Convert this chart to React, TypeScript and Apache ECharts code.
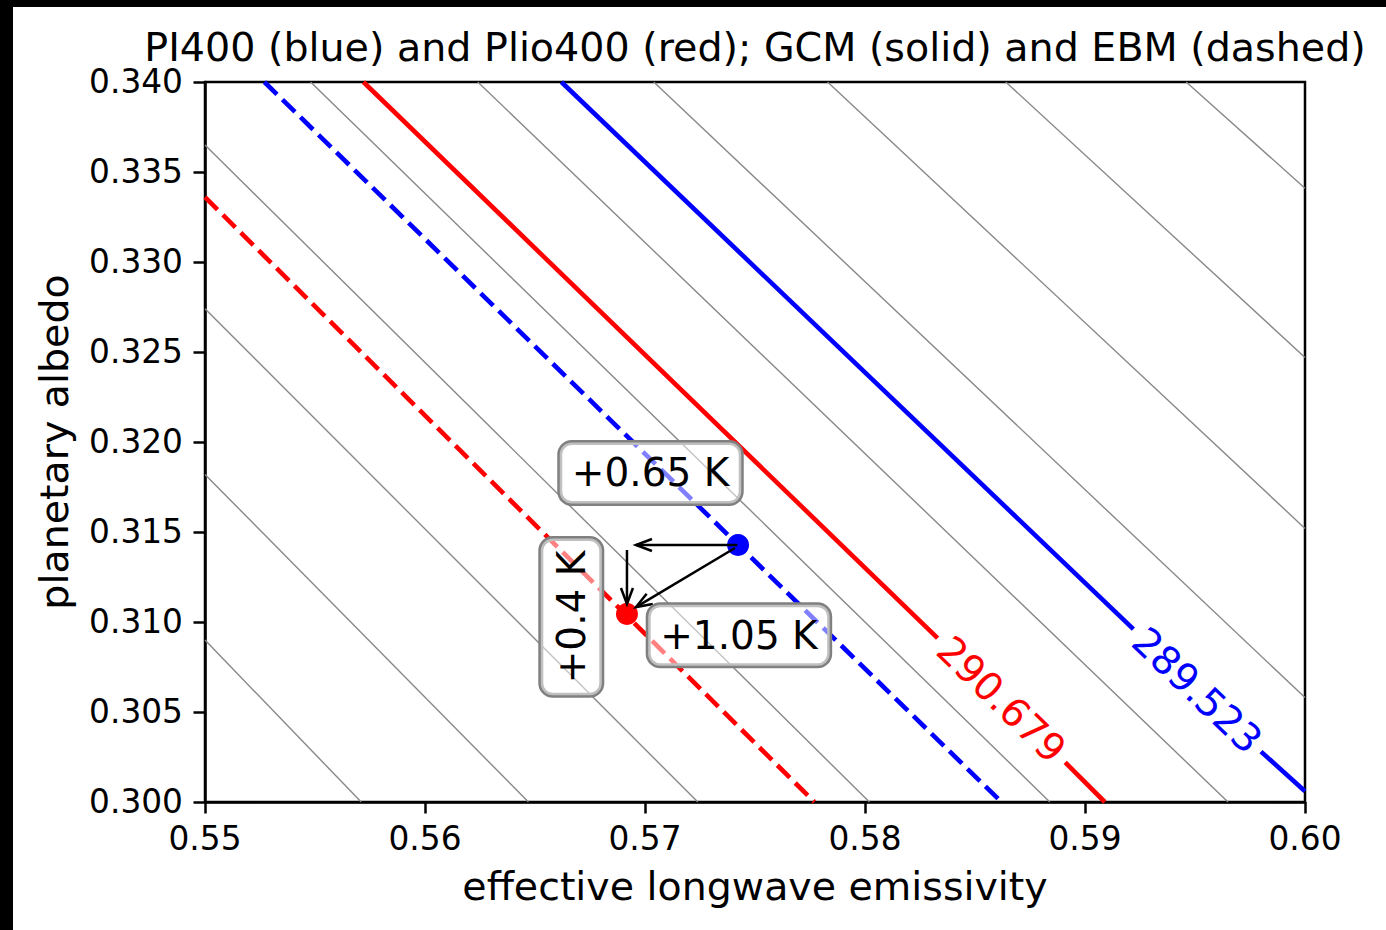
import React, { useEffect, useRef } from "react";
import * as echarts from "echarts";

const FONT = "DejaVu Sans";

// Axis ranges
const xMin = 0.55;
const xMax = 0.6;
const xStep = 0.01;
const yMin = 0.3;
const yMax = 0.34;
const yStep = 0.005;

const titleText = "PI400 (blue) and Plio400 (red); GCM (solid) and EBM (dashed)";
const xName = "effective longwave emissivity";
const yName = "planetary albedo";

// Thin grey background contours: [start, end] in (emissivity, albedo)
const grayContours = [
  [[0.55, 0.309], [0.5571, 0.3]],
  [[0.55, 0.3182], [0.5647, 0.3]],
  [[0.55, 0.3274], [0.5724, 0.3]],
  [[0.55, 0.3365], [0.5802, 0.3]],
  [[0.5548, 0.34], [0.5884, 0.3]],
  [[0.5624, 0.34], [0.5965, 0.3]],
  [[0.5704, 0.34], [0.6, 0.3058]],
  [[0.5783, 0.34], [0.6, 0.3152]],
  [[0.5864, 0.34], [0.6, 0.3247]],
  [[0.5946, 0.34], [0.6, 0.3341]],
];

// GCM contours (solid) with a gap for the inline label
const gcmRed = [
  [[0.5572, 0.34], [0.5833, 0.3091]],
  [[0.5891, 0.3022], [0.5909, 0.3]],
];
const gcmBlue = [
  [[0.5662, 0.34], [0.5922, 0.3096]],
  [[0.598, 0.3028], [0.6, 0.3006]],
];
// EBM contours (dashed)
const ebmBlue = [[[0.5527, 0.34], [0.5862, 0.3]]];
const ebmRed = [[[0.55, 0.3336], [0.5777, 0.3]]];

// Inline contour labels
const contourLabels = ["290.679", "289.523"];
const contourLabelPos = [
  [0.5862, 0.3057, 0],
  [0.5951, 0.3062, 1],
];
const contourLabelColors = ["#ff0000", "#0000ff"];
const contourLabelLines = [
  [[0.5572, 0.34], [0.5909, 0.3]],
  [[0.5662, 0.34], [0.6, 0.3006]],
];

// Points
const piPoint = [[0.57423, 0.31428]];
const plioPoint = [[0.56918, 0.31044]];

// Arrows: [x1, y1, x2, y2]
const arrows = [
  [0.5742, 0.31428, 0.56959, 0.31428],
  [0.56918, 0.314, 0.56918, 0.311],
  [0.57409, 0.31411, 0.56959, 0.31083],
];

// Boxed annotations
const annTexts = ["+0.65 K", "+1.05 K", "+0.4 K"];
const annPos = [
  [0.57025, 0.31828, 0],
  [0.57427, 0.30926, 1],
  [0.56665, 0.31028, 2],
];
const annRot = [0, 0, 90];

function linesData(segs: number[][][]) {
  return segs.map((s) => ({ coords: s }));
}

export default function App() {
  const ref = useRef<HTMLDivElement>(null);

  useEffect(() => {
    if (!ref.current) return;
    const chart = echarts.init(ref.current, null, { renderer: "svg" });

    const axisCommon = {
      nameMoveOverlap: false,
      axisLine: { show: true, lineStyle: { color: "#000", width: 2.5 } },
      axisTick: { show: true, inside: false, length: 11.5, lineStyle: { color: "#000", width: 2.5 } },
      splitLine: { show: false },
      nameTextStyle: { fontFamily: FONT, fontSize: 39.5, color: "#000" },
    };

    const option: any = {
      animation: false,
      backgroundColor: "#fff",
      grid: {
        left: 192,
        top: 75,
        width: 1100,
        height: 720,
        show: true,
        borderColor: "#000",
        borderWidth: 2.5,
        backgroundColor: "transparent",
        containLabel: false,
        outerBoundsMode: "none",
      },
      graphic: [
        {
          type: "text",
          x: 742,
          y: 39.5,
          style: {
            text: titleText,
            fontFamily: FONT,
            fontSize: 39.6,
            fill: "#000",
            align: "center",
            textAlign: "center",
            verticalAlign: "middle",
            textVerticalAlign: "middle",
          },
        },
      ],
      xAxis: {
        ...axisCommon,
        type: "value",
        min: xMin,
        max: xMax,
        interval: xStep,
        name: xName,
        nameLocation: "middle",
        nameGap: 64,
        axisLabel: {
          fontFamily: FONT,
          fontSize: 32.8,
          color: "#000",
          margin: 20,
          formatter: (v: number) => v.toFixed(2),
        },
      },
      yAxis: {
        ...axisCommon,
        type: "value",
        min: yMin,
        max: yMax,
        interval: yStep,
        name: yName,
        nameLocation: "middle",
        nameRotate: 90,
        nameGap: 131,
        axisLabel: {
          fontFamily: FONT,
          fontSize: 32.8,
          color: "#000",
          margin: 22,
          formatter: (v: number) => v.toFixed(3),
        },
      },
      series: [
        {
          type: "lines",
          coordinateSystem: "cartesian2d",
          polyline: false,
          z: 1,
          silent: true,
          lineStyle: { color: "#888888", width: 1.4, opacity: 1 },
          data: linesData(grayContours),
        },
        {
          type: "lines",
          coordinateSystem: "cartesian2d",
          z: 2,
          silent: true,
          lineStyle: { color: "#ff0000", width: 4.6, opacity: 1 },
          data: linesData(gcmRed),
        },
        {
          type: "lines",
          coordinateSystem: "cartesian2d",
          z: 2,
          silent: true,
          lineStyle: { color: "#0000ff", width: 4.6, opacity: 1 },
          data: linesData(gcmBlue),
        },
        {
          type: "lines",
          coordinateSystem: "cartesian2d",
          z: 2,
          silent: true,
          lineStyle: { color: "#0000ff", width: 4.6, opacity: 1, type: [17.6, 7.6] },
          data: linesData(ebmBlue),
        },
        {
          type: "lines",
          coordinateSystem: "cartesian2d",
          z: 2,
          silent: true,
          lineStyle: { color: "#ff0000", width: 4.6, opacity: 1, type: [17.6, 7.6] },
          data: linesData(ebmRed),
        },
        {
          type: "custom",
          coordinateSystem: "cartesian2d",
          z: 3,
          silent: true,
          encode: { x: 0, y: 1 },
          data: contourLabelPos,
          renderItem: (params: any, api: any) => {
            const i = api.value(2);
            const p = api.coord([api.value(0), api.value(1)]);
            const ln = contourLabelLines[i];
            const a = api.coord(ln[0]);
            const b = api.coord(ln[1]);
            const ang = Math.atan2(b[1] - a[1], b[0] - a[0]);
            return {
              type: "text",
              x: p[0],
              y: p[1],
              rotation: -ang,
              style: {
                text: contourLabels[i],
                fontFamily: FONT,
                fontSize: 39,
                fill: contourLabelColors[i],
                align: "center",
                textAlign: "center",
                verticalAlign: "middle",
                textVerticalAlign: "middle",
              },
            };
          },
        },
        {
          type: "scatter",
          z: 4,
          silent: true,
          symbol: "circle",
          symbolSize: 22,
          itemStyle: { color: "#0000ff", opacity: 1 },
          data: piPoint,
        },
        {
          type: "scatter",
          z: 4,
          silent: true,
          symbol: "circle",
          symbolSize: 22,
          itemStyle: { color: "#ff0000", opacity: 1 },
          data: plioPoint,
        },
        {
          type: "custom",
          coordinateSystem: "cartesian2d",
          z: 5,
          silent: true,
          encode: { x: [0, 2], y: [1, 3] },
          data: arrows,
          renderItem: (params: any, api: any) => {
            const a = api.coord([api.value(0), api.value(1)]);
            const b = api.coord([api.value(2), api.value(3)]);
            const ang = Math.atan2(b[1] - a[1], b[0] - a[0]);
            const L = 16;
            const W = 6;
            const c = Math.cos(ang);
            const s = Math.sin(ang);
            const h1 = [b[0] - L * c + W * s, b[1] - L * s - W * c];
            const h2 = [b[0] - L * c - W * s, b[1] - L * s + W * c];
            return {
              type: "group",
              children: [
                {
                  type: "line",
                  shape: { x1: a[0], y1: a[1], x2: b[0], y2: b[1] },
                  style: { stroke: "#000", lineWidth: 2.5 },
                },
                {
                  type: "polyline",
                  shape: { points: [h1, b, h2] },
                  style: { stroke: "#000", lineWidth: 2.5, fill: null },
                },
              ],
            };
          },
        },
        {
          type: "custom",
          coordinateSystem: "cartesian2d",
          z: 6,
          silent: true,
          encode: { x: 0, y: 1 },
          data: annPos,
          renderItem: (params: any, api: any) => {
            const i = api.value(2);
            const p = api.coord([api.value(0), api.value(1)]);
            return {
              type: "text",
              x: p[0],
              y: p[1],
              rotation: (annRot[i] * Math.PI) / 180,
              style: {
                text: annTexts[i],
                fontFamily: FONT,
                fontSize: 39,
                fill: "#000",
                align: "center",
                textAlign: "center",
                verticalAlign: "middle",
                textVerticalAlign: "middle",
                backgroundColor: "rgba(255,255,255,0.5)",
                borderColor: "#808080",
                borderWidth: 2.5,
                borderRadius: 12,
                padding: [11, 12, 11, 12],
              },
            };
          },
        },
      ],
    };

    chart.setOption(option);
    return () => chart.dispose();
  }, []);

  return (
    <div
      style={{
        position: "fixed",
        left: 0,
        top: 0,
        width: 1386,
        height: 930,
        background: "#000",
      }}
    >
      <div
        ref={ref}
        style={{
          position: "absolute",
          left: 13,
          top: 7,
          width: 1373,
          height: 923,
          background: "#fff",
        }}
      />
    </div>
  );
}
